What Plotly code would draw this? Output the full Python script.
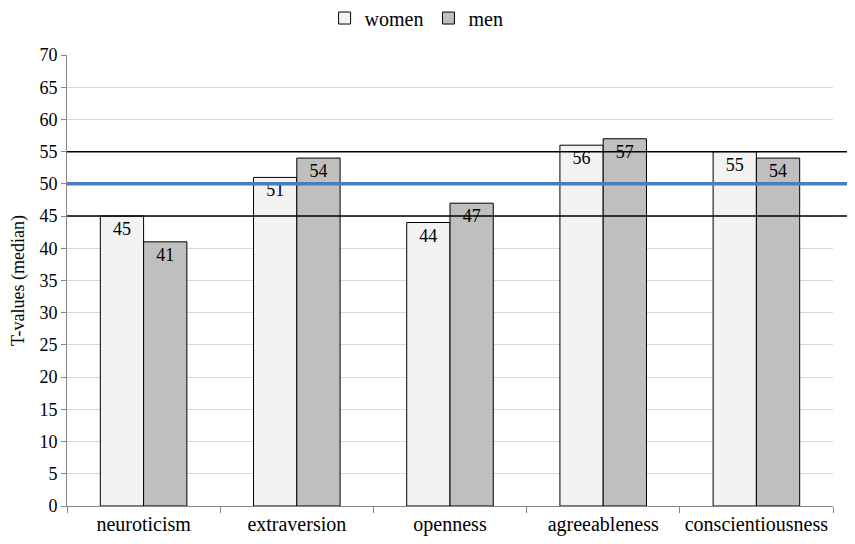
import plotly.graph_objects as go

traits = ['neuroticism', 'extraversion', 'openness', 'agreeableness', 'conscientiousness']
women = [45, 51, 44, 56, 55]
men = [41, 54, 47, 57, 54]
norm_lines = [55, 45]   # black lines, +/- 1 SD
mean_line = 50          # blue line
y_ticks = list(range(0, 75, 5))

serif = '"Times New Roman", "Liberation Serif", "DejaVu Serif", serif'

fig = go.Figure()
fig.add_trace(go.Bar(
    x=traits, y=women, name='women', text=women,
    textposition='inside', insidetextanchor='end', constraintext='none',
    textfont=dict(family=serif, size=18, color='black'),
    marker=dict(color='#f2f2f2', line=dict(color='black', width=1))
))
fig.add_trace(go.Bar(
    x=traits, y=men, name='men', text=men,
    textposition='inside', insidetextanchor='end', constraintext='none',
    textfont=dict(family=serif, size=18, color='black'),
    marker=dict(color='#bfbfbf', line=dict(color='black', width=1))
))

for v in norm_lines:
    fig.add_shape(type='line', xref='paper', yref='y', x0=0, x1=1.022, y0=v, y1=v,
                  line=dict(color='black', width=1.5), layer='above')
fig.add_shape(type='line', xref='paper', yref='y', x0=0, x1=1.022, y0=mean_line, y1=mean_line,
              line=dict(color='#4a7ebb', width=3.5), layer='above')

fig.update_layout(
    width=839, height=528,
    margin=dict(l=59, r=14, t=47, b=30, autoexpand=False),
    plot_bgcolor='white', paper_bgcolor='white',
    font=dict(family=serif, size=18, color='black'),
    barmode='group', bargap=0.435, bargroupgap=0,
    showlegend=True,
    legend=dict(orientation='h', xref='container', yref='container',
                x=0.487, xanchor='center', y=0.981, yanchor='middle',
                font=dict(family=serif, size=20), itemwidth=30, traceorder='normal'),
    xaxis=dict(showline=True, linecolor='#868686', ticks='outside', tickson='boundaries',
               tickcolor='#868686', ticklen=6, showgrid=False, automargin=False,
               tickfont=dict(family=serif, size=20)),
    yaxis=dict(range=[0, 70], tickvals=y_ticks, showline=True, linecolor='#868686',
               ticks='outside', tickcolor='#868686', ticklen=5, automargin=False,
               gridcolor='#d9d9d9', gridwidth=1, zeroline=False,
               tickfont=dict(family=serif, size=18),
               title=dict(text='T-values (median)', font=dict(family=serif, size=18), standoff=16)),
)

fig.write_html('out.html')
